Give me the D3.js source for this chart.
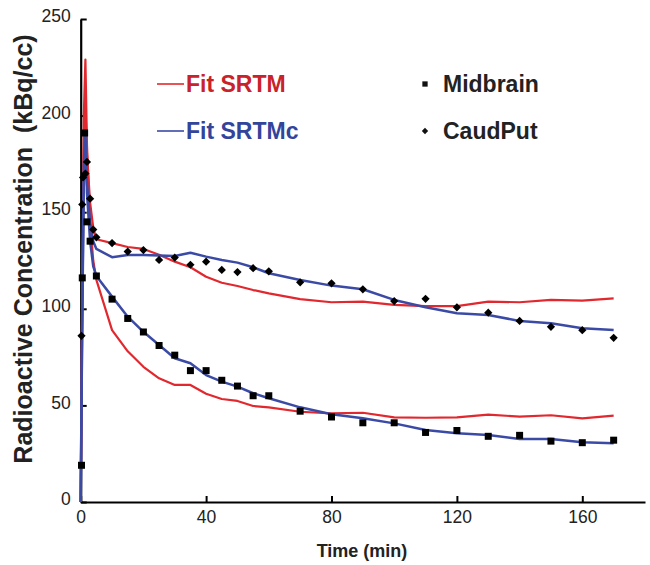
<!DOCTYPE html>
<html>
<head>
<meta charset="utf-8">
<script src="https://cdn.jsdelivr.net/npm/d3@7"></script>
<style>
  body { margin: 0; background: #fff; }
  svg { font-family: "Liberation Sans", Arial, sans-serif; }
</style>
</head>
<body>
<div id="chart"></div>
<script>
// measured points
const midTime = [0.25, 0.5, 1.25, 2, 3, 5, 10, 15, 20, 25, 30, 35, 40, 45, 50, 55, 60, 70, 80, 90, 100, 110, 120, 130, 140, 150, 160, 170];
const midVal = [19, 116, 191, 145, 135, 117, 105, 95, 88, 81, 76, 68, 68, 63, 60, 55, 55, 47, 44, 41, 41, 36, 37, 34, 34.5, 31.5, 30.7, 32];

const caudTime = [0.25, 0.5, 0.75, 1.5, 2, 3, 4, 5, 10, 15, 20, 25, 30, 35, 40, 45, 50, 55, 60, 70, 80, 90, 100, 110, 120, 130, 140, 150, 160, 170];
const caudVal = [86, 154, 168, 170, 176, 157, 141, 137, 134, 129.6, 130.4, 125.3, 126.5, 122.8, 124.4, 120.1, 119, 121, 119.4, 113.7, 113.2, 110.1, 104, 105.2, 100.8, 98, 93.7, 90.7, 88.9, 85];

// fitted curves
const fitTime = [0, 0.5, 1, 1.5, 2, 3, 4, 5, 10, 15, 20, 25, 30, 35, 40, 45, 50, 55, 60, 70, 80, 90, 100, 110, 120, 130, 140, 150, 160, 170];
const srtmMid = [0, 110, 200, 229, 185, 145, 125, 115, 89, 78, 70, 64, 60.6, 60.6, 56, 53.3, 52.3, 49.7, 49, 46.7, 45.9, 46.2, 43.8, 43.6, 43.8, 45.2, 44.2, 44.9, 43.3, 44.7];
const srtmCaud = [0, 100, 180, 205, 180, 155, 142, 136, 134, 132, 131, 128, 124.4, 121.5, 116.6, 113.5, 111.8, 109.7, 108, 105, 103.4, 103.7, 102, 101.4, 101.4, 103.7, 103.4, 104.6, 104.2, 105.4];
const srtmcMid = [0, 100, 175, 192, 160, 135, 122, 117, 106.3, 95.9, 88.1, 81.3, 74.4, 71.8, 65.7, 62.3, 59.7, 56.3, 53.7, 49, 45.4, 43.3, 40.7, 37.3, 35.6, 34.7, 32.6, 32.6, 30.9, 30.4];
const srtmcCaud = [0, 95, 165, 185, 165, 145, 135, 131, 126.7, 127.8, 127.8, 127.6, 127.3, 129, 127, 125.3, 123.9, 121.5, 118.4, 114.9, 112, 110.1, 104.6, 100.8, 97.7, 96.8, 93.7, 92.5, 89.9, 89];

const xTicks = [0, 40, 80, 120, 160];
const yTicks = [0, 50, 100, 150, 200, 250];

const red = "#e1282e";
const blue = "#3b4ba5";

const width = 650, height = 565;

const svg = d3.select("#chart").append("svg")
  .attr("width", width)
  .attr("height", height);

const x = d3.scaleLinear().domain([0, 180]).range([80.7, 645]);
const y = d3.scaleLinear().domain([0, 250]).range([502, 19]);

// Axes
const xAxis = svg.append("g")
  .attr("transform", "translate(0," + y(0) + ")")
  .call(d3.axisBottom(x).tickValues(xTicks).tickSizeInner(-6).tickSizeOuter(0).tickPadding(9));

const yAxis = svg.append("g")
  .attr("transform", "translate(" + x(0) + ",0)")
  .call(d3.axisLeft(y).tickValues(yTicks).tickSizeInner(-6).tickSizeOuter(0).tickPadding(10));

[xAxis, yAxis].forEach(g => {
  g.select(".domain").attr("stroke", "#000").attr("stroke-width", 2.2);
  g.selectAll(".tick line").attr("stroke", "#000").attr("stroke-width", 2);
  g.selectAll(".tick text")
    .attr("fill", "#222")
    .style("font-size", "17.5px")
    .style("font-family", "Liberation Sans, Arial, sans-serif");
});
yAxis.selectAll(".tick text").attr("dy", "0.15em");

// axis titles
svg.append("text")
  .attr("x", 362)
  .attr("y", 557)
  .attr("text-anchor", "middle")
  .style("font-size", "18px")
  .style("font-weight", "bold")
  .attr("fill", "#222")
  .text("Time (min)");

svg.append("text")
  .attr("transform", "translate(32,249) rotate(-90)")
  .attr("text-anchor", "middle")
  .attr("xml:space", "preserve")
  .style("white-space", "pre")
  .style("font-size", "25px")
  .style("font-weight", "bold")
  .attr("fill", "#222")
  .text("Radioactive Concentration  (kBq/cc)");

// Fit lines
const line = d3.line()
  .x(d => x(d[0]))
  .y(d => y(d[1]));

const fits = [
  { vals: srtmMid, color: red, w: 2.2 },
  { vals: srtmCaud, color: red, w: 2.2 },
  { vals: srtmcMid, color: blue, w: 2.5 },
  { vals: srtmcCaud, color: blue, w: 2.5 }
];

fits.forEach(f => {
  svg.append("path")
    .datum(fitTime.map((t, i) => [t, f.vals[i]]))
    .attr("fill", "none")
    .attr("stroke", f.color)
    .attr("stroke-width", f.w)
    .attr("stroke-linejoin", "round")
    .attr("d", line);
});

// Data points
svg.selectAll(".mid")
  .data(midTime.map((t, i) => [t, midVal[i]]))
  .enter()
  .append("path")
  .attr("class", "mid")
  .attr("transform", d => "translate(" + x(d[0]) + "," + y(d[1]) + ")")
  .attr("d", d3.symbol().type(d3.symbolSquare).size(49))
  .attr("fill", "#000");

svg.selectAll(".caud")
  .data(caudTime.map((t, i) => [t, caudVal[i]]))
  .enter()
  .append("path")
  .attr("class", "caud")
  .attr("transform", d => "translate(" + x(d[0]) + "," + y(d[1]) + ") rotate(45)")
  .attr("d", d3.symbol().type(d3.symbolSquare).size(34))
  .attr("fill", "#000");

// Legend
const legend = svg.append("g").style("font-weight", "bold").style("font-size", "23px");

[["Fit SRTM", red, "#c9222a", 84], ["Fit SRTMc", blue, "#33449b", 131]].forEach(([label, c, tc, ly]) => {
  legend.append("line")
    .attr("x1", 157).attr("x2", 184)
    .attr("y1", ly).attr("y2", ly)
    .attr("stroke", c).attr("stroke-width", 1.6);
  legend.append("text")
    .attr("x", 186).attr("y", ly + 8)
    .attr("fill", tc)
    .text(label);
});

legend.append("path")
  .attr("transform", "translate(425,84)")
  .attr("d", d3.symbol().type(d3.symbolSquare).size(28))
  .attr("fill", "#111");
legend.append("text").attr("x", 443).attr("y", 92).attr("fill", "#222").text("Midbrain");

legend.append("path")
  .attr("transform", "translate(425,131) rotate(45)")
  .attr("d", d3.symbol().type(d3.symbolSquare).size(20))
  .attr("fill", "#111");
legend.append("text").attr("x", 443).attr("y", 139).attr("fill", "#222").text("CaudPut");
</script>
</body>
</html>
